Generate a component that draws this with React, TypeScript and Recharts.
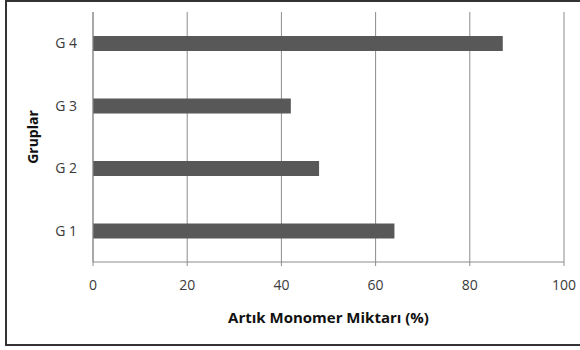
import React from "react";
import { BarChart, Bar, XAxis, YAxis, CartesianGrid } from "recharts";

const categories = ["G 1", "G 2", "G 3", "G 4"];
const values = [64, 48, 42, 87];
const xTicks = [0, 20, 40, 60, 80, 100];

const data = categories.map((c, i) => ({ name: c, value: values[i] }));

export default function App() {
  return (
    <div style={{ position: "absolute", left: 0, top: 0, width: 580, height: 350, background: "#fff" }}>
      <div
        style={{
          position: "absolute",
          left: 5,
          top: 0,
          width: 580,
          height: 346,
          borderTop: "2px solid #333",
          borderLeft: "2px solid #333",
          borderBottom: "2px solid #333",
          boxSizing: "border-box",
        }}
      />
      <BarChart
        width={580}
        height={350}
        layout="vertical"
        data={data}
        margin={{ top: 12, right: 16, bottom: 38, left: 0 }}
        style={{ position: "absolute", left: 0, top: 0 }}
      >
        <CartesianGrid horizontal={false} vertical={true} stroke="#8c8c8c" strokeWidth={1} />
        <XAxis
          type="number"
          domain={[0, 100]}
          ticks={xTicks}
          height={50}
          stroke="#8c8c8c"
          tickSize={4}
          tickMargin={14}
          tick={{ fill: "#3a3a3a", fontSize: 14, fontFamily: "Open Sans" }}
          label={{
            value: "Artık Monomer Miktarı (%)",
            position: "bottom",
            offset: 0,
            style: { fill: "#111", fontSize: 15, fontWeight: "bold", fontFamily: "Open Sans" },
          }}
        />
        <YAxis
          type="category"
          dataKey="name"
          reversed
          width={93}
          stroke="#8c8c8c"
          tickLine={false}
          tickSize={0}
          tickMargin={16}
          tick={{ fill: "#3a3a3a", fontSize: 14, fontFamily: "Open Sans" }}
          label={{
            value: "Gruplar",
            angle: -90,
            position: "center",
            dx: -13,
            style: { fill: "#111", fontSize: 14, fontWeight: "bold", fontFamily: "Open Sans" },
          }}
        />
        <Bar dataKey="value" fill="#585858" barSize={15} isAnimationActive={false} />
      </BarChart>
    </div>
  );
}
